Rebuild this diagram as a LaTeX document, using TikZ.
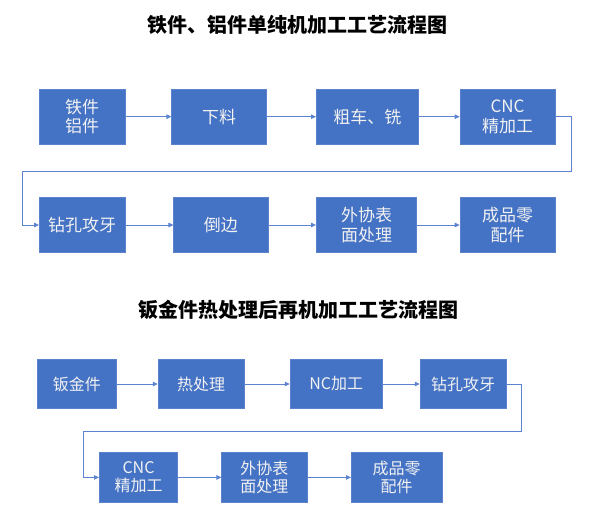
\documentclass[tikz,border=0pt]{standalone}
\usepackage{fontspec}
\newfontfamily\cjk{Noto Sans CJK SC}
\usetikzlibrary{arrows.meta}
\definecolor{boxblue}{HTML}{4472C4}
\definecolor{boxedge}{HTML}{5B82CC}
\definecolor{linkblue}{HTML}{5C83D0}
\definecolor{boxtext}{HTML}{F2F2F2}
\tikzset{
  procbox/.style={rectangle, fill=boxblue, draw=boxedge, line width=0.6pt, inner sep=0pt,
    text=boxtext, align=center},
  bigtxt/.style={font=\cjk\fontsize{17}{19.5}\selectfont},
  smalltxt/.style={font=\cjk\fontsize{16}{18.3}\selectfont},
  conn/.style={draw=linkblue, line width=0.8pt, -{Triangle[length=5pt,width=4.5pt]}},
  titletxt/.style={font=\cjk\bfseries\fontsize{20}{22}\selectfont, text=black, inner sep=0pt}
}
\begin{document}
\begin{tikzpicture}[x=1pt,y=-1pt]
\useasboundingbox (0,0) rectangle (593,524);
% titles
\node[titletxt] (t1) at (297.5,25) {铁件、铝件单纯机加工工艺流程图};
\node[titletxt] (t2) at (298,310.3) {钣金件热处理后再机加工工艺流程图};
% section 1 row 1
\node[procbox,bigtxt,minimum width=85.7pt,minimum height=54.7pt] (A1) at (82.2,116.7) {铁件\\铝件};
\node[procbox,bigtxt,minimum width=94.6pt,minimum height=54.7pt] (A2) at (219,116.7) {下料};
\node[procbox,bigtxt,minimum width=102pt,minimum height=54.7pt] (A3) at (367.3,116.7) {粗车、铣};
\node[procbox,bigtxt,minimum width=95pt,minimum height=54.7pt] (A4) at (507.5,116.7) {CNC\\精加工};
% section 1 row 2
\node[procbox,bigtxt,minimum width=85.7pt,minimum height=54.6pt] (B1) at (82.2,225) {钻孔攻牙};
\node[procbox,bigtxt,minimum width=94.3pt,minimum height=54.6pt] (B2) at (220.9,225) {倒边};
\node[procbox,bigtxt,minimum width=100.4pt,minimum height=54.6pt] (B3) at (366.5,225) {外协表\\面处理};
\node[procbox,bigtxt,minimum width=95pt,minimum height=54.6pt] (B4) at (507.5,225) {成品零\\配件};
% section 2 row 1
\node[procbox,smalltxt,minimum width=78.3pt,minimum height=49.4pt] (C1) at (76.9,384) {钣金件};
\node[procbox,smalltxt,minimum width=86.3pt,minimum height=49.4pt] (C2) at (201.2,384) {热处理};
\node[procbox,smalltxt,minimum width=92.3pt,minimum height=49.4pt] (C3) at (336.2,384) {NC加工};
\node[procbox,smalltxt,minimum width=86.3pt,minimum height=49.4pt] (C4) at (463.2,384) {钻孔攻牙};
% section 2 row 2
\node[procbox,smalltxt,minimum width=78.4pt,minimum height=49.3pt] (D1) at (138.5,477.4) {CNC\\精加工};
\node[procbox,smalltxt,minimum width=85.3pt,minimum height=49.3pt] (D2) at (264.4,477.4) {外协表\\面处理};
\node[procbox,smalltxt,minimum width=90.7pt,minimum height=49.3pt] (D3) at (396.7,477.4) {成品零\\配件};
% return-path corners
\coordinate (r1) at (571.7,171.5);
\coordinate (l1) at (22,171.5);
\coordinate (r2) at (521.7,431);
\coordinate (l2) at (83.3,431);
% connectors section 1
\draw[conn] (A1.east) -- (A2.west);
\draw[conn] (A2.east) -- (A3.west);
\draw[conn] (A3.east) -- (A4.west);
\draw[conn] (A4.east) -| (r1) -- (l1) |- (B1.west);
\draw[conn] (B1.east) -- (B2.west);
\draw[conn] (B2.east) -- (B3.west);
\draw[conn] (B3.east) -- (B4.west);
% connectors section 2
\draw[conn] (C1.east) -- (C2.west);
\draw[conn] (C2.east) -- (C3.west);
\draw[conn] (C3.east) -- (C4.west);
\draw[conn] (C4.east) -| (r2) -- (l2) |- (D1.west);
\draw[conn] (D1.east) -- (D2.west);
\draw[conn] (D2.east) -- (D3.west);
\end{tikzpicture}
\end{document}
